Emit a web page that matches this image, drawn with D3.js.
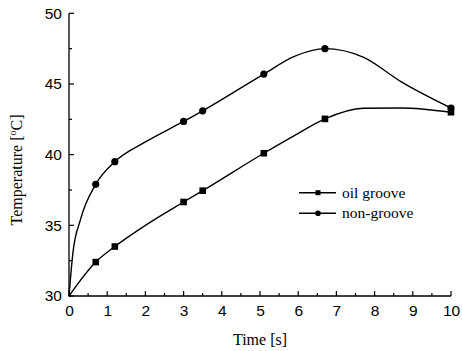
<!DOCTYPE html>
<html>
<head>
<meta charset="utf-8">
<script src="https://cdn.jsdelivr.net/npm/d3@7"></script>
<style>
  body { margin: 0; background: #fff; }
  svg { display: block; }
</style>
</head>
<body>
<svg id="chart" width="462" height="351"></svg>
<script>
// curve vertices
let grooveTime = [0, 0.7, 1.2, 2, 3, 3.5, 5.1, 5.9, 6.7, 7.7, 8.7, 10];
let grooveTemp = [30, 32.4, 33.5, 35.0, 36.65, 37.45, 40.1, 41.35, 42.53, 43.28, 43.3, 43.0];
let nonTime = [0, 0.1, 0.3, 0.7, 1.2, 2, 3, 3.5, 5.1, 5.9, 6.7, 7.7, 8.7, 10];
let nonTemp = [30, 33.0, 35.4, 37.9, 39.5, 40.9, 42.35, 43.1, 45.7, 46.95, 47.5, 46.9, 45.15, 43.3];
// which time values carry a marker
let markerTimes = [0.7, 1.2, 3, 3.5, 5.1, 6.7, 10];
let seriesNames = ["oil groove", "non-groove"];
let xTicks = [0, 1, 2, 3, 4, 5, 6, 7, 8, 9, 10];
let xMinor = [0.5, 1.5, 2.5, 3.5, 4.5, 5.5, 6.5, 7.5, 8.5, 9.5];
let yTicks = [30, 35, 40, 45, 50];
let yMinor = [32.5, 37.5, 42.5, 47.5];

let svg = d3.select("#chart");
let x = d3.scaleLinear().domain([0, 10]).range([69, 451]);
let y = d3.scaleLinear().domain([30, 50]).range([296, 13.3]);

let series = [
    {name: seriesNames[0], shape: "square",
     pts: grooveTime.map((t, i) => ({t: t, v: grooveTemp[i]}))},
    {name: seriesNames[1], shape: "circle",
     pts: nonTime.map((t, i) => ({t: t, v: nonTemp[i]}))}
];

// tick labels via d3 axes
svg.append("g").attr("class", "ax").attr("transform", "translate(0,296)")
    .call(d3.axisBottom(x).tickValues(xTicks).tickSize(0).tickPadding(9));
svg.append("g").attr("class", "ax").attr("transform", "translate(69,0)")
    .call(d3.axisLeft(y).tickValues(yTicks).tickSize(0).tickPadding(7));
svg.selectAll(".ax .domain").remove();
svg.selectAll(".ax text")
    .attr("font-family", "Liberation Sans, Arial, sans-serif")
    .attr("font-size", 15.5)
    .attr("fill", "#000");

// axis lines and inward ticks
let axisG = svg.append("g");
axisG.append("path")
    .attr("d", d3.line()([[x(0), y(50)], [x(0), y(30)], [x(10), y(30)]]))
    .attr("fill", "none")
    .attr("stroke", "#000")
    .attr("stroke-width", 1.3);
axisG.selectAll(".xt").data(xTicks.concat(xMinor)).enter().append("line")
    .attr("x1", d => x(d)).attr("x2", d => x(d))
    .attr("y1", y(30)).attr("y2", d => y(30) - (xTicks.includes(d) ? 5 : 3))
    .attr("stroke", "#000").attr("stroke-width", 1.2);
axisG.selectAll(".yt").data(yTicks.concat(yMinor)).enter().append("line")
    .attr("y1", d => y(d)).attr("y2", d => y(d))
    .attr("x1", x(0)).attr("x2", d => x(0) + (yTicks.includes(d) ? 5 : 3))
    .attr("stroke", "#000").attr("stroke-width", 1.2);

// lines
let line = d3.line().x(d => x(d.t)).y(d => y(d.v)).curve(d3.curveMonotoneX);
svg.append("g").selectAll("path")
    .data(series).enter().append("path")
    .attr("d", d => line(d.pts))
    .attr("fill", "none")
    .attr("stroke", "#000")
    .attr("stroke-width", 1.4);

function drawMarker(g, shape, cx, cy, s) {
    if (shape === "square") {
        g.append("rect").attr("x", cx - s / 2).attr("y", cy - s / 2)
            .attr("width", s).attr("height", s).attr("fill", "#000");
    } else {
        g.append("circle").attr("cx", cx).attr("cy", cy).attr("r", s / 2 + 0.3).attr("fill", "#000");
    }
}

let markers = svg.append("g");
series.forEach(s => {
    s.pts.filter(p => markerTimes.includes(p.t)).forEach(p => {
        drawMarker(markers, s.shape, x(p.t), y(p.v), 6.6);
    });
});

// legend
let serif = "'Liberation Serif', 'Times New Roman', serif";
let legend = svg.append("g");
series.forEach((s, i) => {
    let ly = 192.7 + i * 20.6;
    legend.append("line").attr("x1", 299).attr("x2", 336).attr("y1", ly).attr("y2", ly)
        .attr("stroke", "#000").attr("stroke-width", 1.4);
    drawMarker(legend, s.shape, 318, ly, 5);
    legend.append("text").attr("x", 342).attr("y", ly + 5)
        .style("font-family", serif)
        .style("font-size", "15.5px")
        .text(s.name);
});

// axis titles
svg.append("text")
    .attr("x", 260).attr("y", 345)
    .attr("text-anchor", "middle")
    .style("font-family", serif)
    .style("font-size", "16px")
    .text("Time [s]");

let yt = svg.append("text")
    .attr("transform", "translate(22,170) rotate(-90)")
    .attr("text-anchor", "middle")
    .style("font-family", serif)
    .style("font-size", "16px");
yt.append("tspan").text("Temperature [");
yt.append("tspan").style("font-size", "10px").attr("dy", -6).text("o");
yt.append("tspan").attr("dy", 6).text("C]");
</script>
</body>
</html>
